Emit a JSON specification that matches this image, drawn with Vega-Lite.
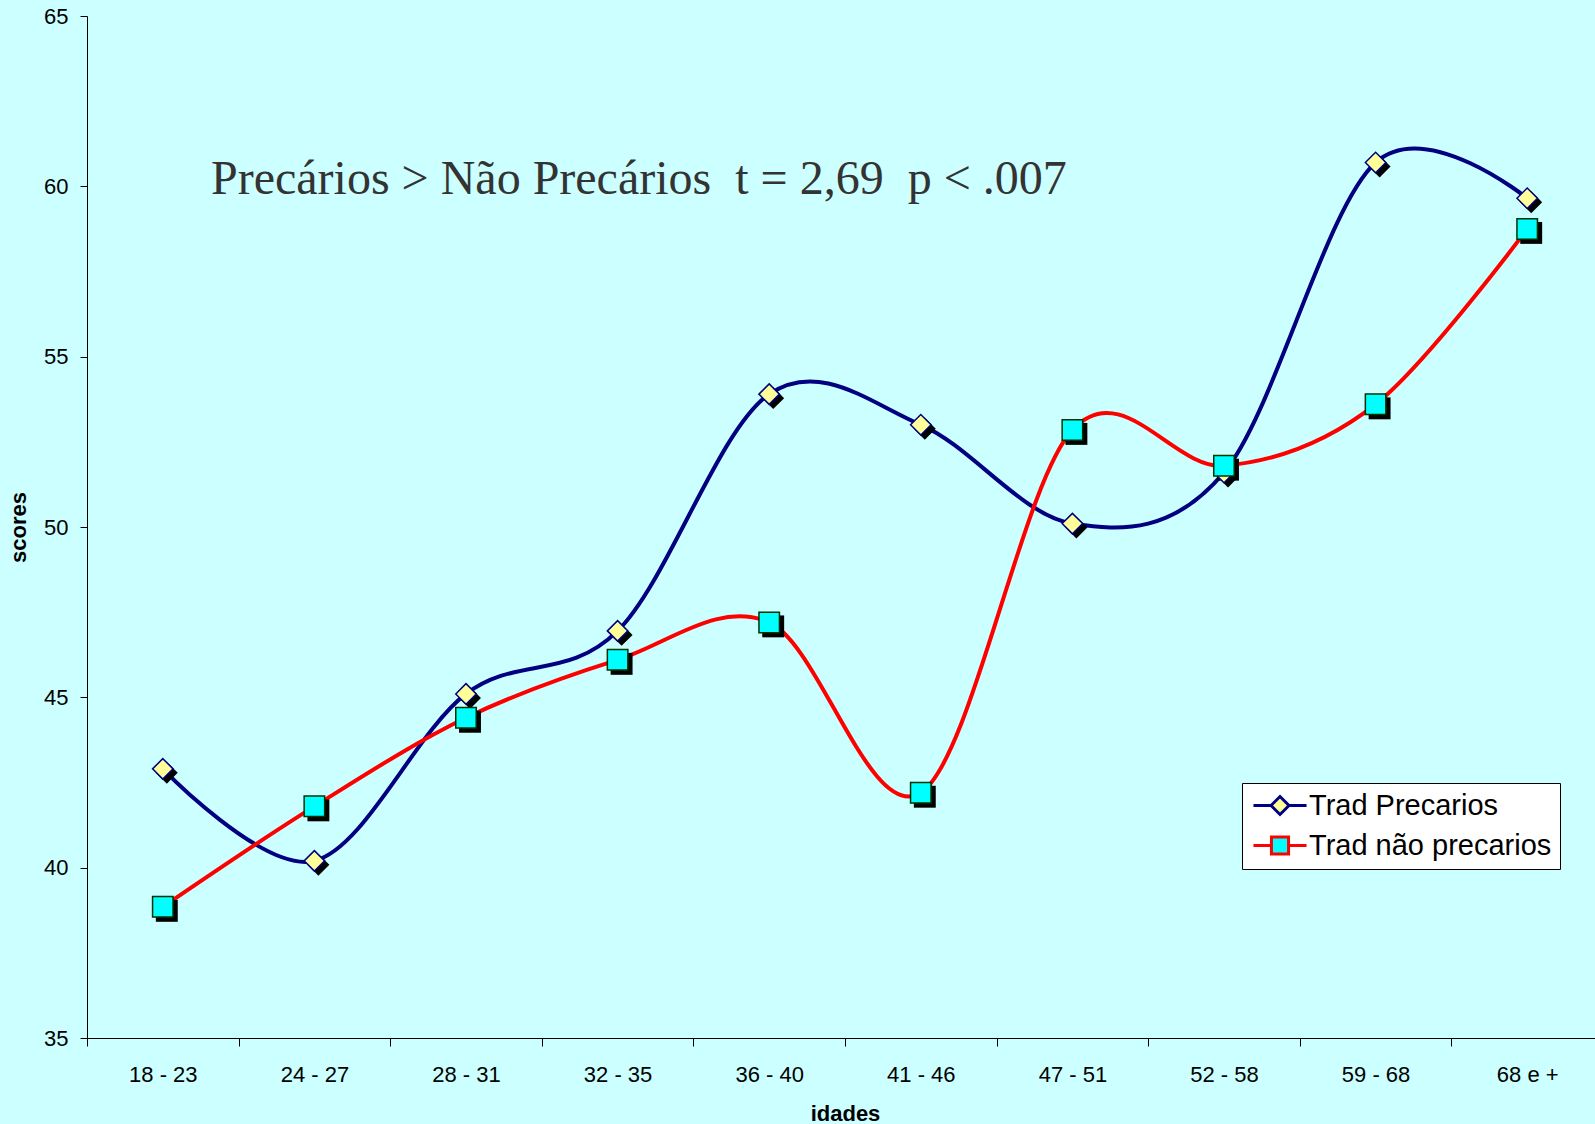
{
  "$schema": "https://vega.github.io/schema/vega-lite/v6.json",
  "width": 1516,
  "height": 1022,
  "autosize": {"type": "none"},
  "padding": {"left": 87, "top": 16, "right": -8, "bottom": 86},
  "background": "#CCFFFF",
  "config": {"view": {"stroke": null}, "font": "Liberation Sans"},
  "title": {
    "text": "Precários > Não Precários \u00a0t = 2,69 \u00a0p < .007",
    "anchor": "start",
    "frame": "group",
    "orient": "top",
    "font": "Liberation Serif",
    "fontSize": 48,
    "fontWeight": "normal",
    "color": "#333333",
    "baseline": "alphabetic",
    "dx": 124,
    "offset": -237
  },
  "data": {
    "values": [
      {"idade": "18 - 23", "serie": "Trad Precarios", "score": 42.9},
      {"idade": "24 - 27", "serie": "Trad Precarios", "score": 40.2},
      {"idade": "28 - 31", "serie": "Trad Precarios", "score": 45.1},
      {"idade": "32 - 35", "serie": "Trad Precarios", "score": 46.95},
      {"idade": "36 - 40", "serie": "Trad Precarios", "score": 53.9},
      {"idade": "41 - 46", "serie": "Trad Precarios", "score": 53.0},
      {"idade": "47 - 51", "serie": "Trad Precarios", "score": 50.1},
      {"idade": "52 - 58", "serie": "Trad Precarios", "score": 51.6},
      {"idade": "59 - 68", "serie": "Trad Precarios", "score": 60.7},
      {"idade": "68 e +", "serie": "Trad Precarios", "score": 59.65},
      {"idade": "18 - 23", "serie": "Trad não precarios", "score": 38.85},
      {"idade": "24 - 27", "serie": "Trad não precarios", "score": 41.8},
      {"idade": "28 - 31", "serie": "Trad não precarios", "score": 44.4},
      {"idade": "32 - 35", "serie": "Trad não precarios", "score": 46.1},
      {"idade": "36 - 40", "serie": "Trad não precarios", "score": 47.2},
      {"idade": "41 - 46", "serie": "Trad não precarios", "score": 42.2},
      {"idade": "47 - 51", "serie": "Trad não precarios", "score": 52.85},
      {"idade": "52 - 58", "serie": "Trad não precarios", "score": 51.8},
      {"idade": "59 - 68", "serie": "Trad não precarios", "score": 53.6},
      {"idade": "68 e +", "serie": "Trad não precarios", "score": 58.75}
    ]
  },
  "encoding": {
    "x": {
      "field": "idade",
      "type": "nominal",
      "sort": null,
      "bandPosition": 0.5,
      "scale": {"type": "band", "paddingInner": 0, "paddingOuter": 0},
      "axis": {
        "title": "idades",
        "labelAngle": 0,
        "tickBand": "extent",
        "tickSize": 8,
        "labelPadding": 18,
        "labelFontSize": 22,
        "labelColor": "black",
        "labelBaseline": "top",
        "tickColor": "black",
        "domainColor": "black",
        "grid": false,
        "titleFontSize": 22,
        "titleFontWeight": "bold",
        "titleColor": "black",
        "titleBaseline": "alphabetic",
        "titleY": 82,
        "titleX": 758
      }
    },
    "y": {
      "field": "score",
      "type": "quantitative",
      "scale": {"domain": [35, 65], "nice": false, "zero": false},
      "axis": {
        "title": "scores",
        "values": [35, 40, 45, 50, 55, 60, 65],
        "tickSize": 7,
        "labelPadding": 12,
        "labelFontSize": 22,
        "labelColor": "black",
        "tickColor": "black",
        "domainColor": "black",
        "grid": false,
        "titleFontSize": 22,
        "titleFontWeight": "bold",
        "titleColor": "black",
        "titleBaseline": "alphabetic",
        "titleAngle": -90,
        "titleX": -62,
        "titleY": 511
      }
    }
  },
  "layer": [
    {
      "mark": {"type": "line", "interpolate": "cardinal", "tension": 0, "strokeWidth": 4},
      "encoding": {
        "color": {
          "field": "serie",
          "type": "nominal",
          "scale": {"range": ["#000080", "#FF0000"]},
          "legend": {
            "orient": "none",
            "legendX": 1155,
            "legendY": 767,
            "title": null,
            "direction": "vertical",
            "symbolType": "square",
            "symbolSize": 324,
            "symbolStrokeWidth": 3,
            "symbolOffset": 15.5,
            "labelOffset": 14.5,
            "labelFontSize": 29,
            "labelFont": "Liberation Sans",
            "labelColor": "black",
            "labelLimit": 400,
            "padding": 8,
            "rowPadding": 9,
            "fillColor": "white",
            "strokeColor": "black",
            "encode": {
              "symbols": {
                "update": {
                  "shape": {"signal": "datum.value === 'Trad Precarios' ? 'M-2.95,0L-1,0M-1,0L0,-1L1,0L0,1ZM1,0L2.95,0' : 'M-2.95,0L-0.95,0M-0.95,-0.95L0.95,-0.95L0.95,0.95L-0.95,0.95ZM0.95,0L2.95,0'"},
                  "fill": {"signal": "datum.value === 'Trad Precarios' ? '#FFFF99' : '#00FFFF'"},
                  "strokeWidth": {"value": 3},
                  "opacity": {"value": 1}
                }
              }
            }
          }
        }
      }
    },
    {
      "mark": {"type": "point", "filled": true, "opacity": 1, "size": 480, "color": "black", "strokeWidth": 0, "xOffset": 4, "yOffset": 4},
      "encoding": {
        "shape": {
          "field": "serie",
          "type": "nominal",
          "scale": {"domain": ["Trad Precarios", "Trad não precarios"], "range": ["diamond", "square"]},
          "legend": null
        }
      }
    },
    {
      "mark": {"type": "point", "filled": true, "opacity": 1, "size": 420, "strokeWidth": 1.5},
      "encoding": {
        "shape": {
          "field": "serie",
          "type": "nominal",
          "scale": {"domain": ["Trad Precarios", "Trad não precarios"], "range": ["diamond", "square"]},
          "legend": null
        },
        "fill": {
          "field": "serie",
          "type": "nominal",
          "scale": {"domain": ["Trad Precarios", "Trad não precarios"], "range": ["#FFFF99", "#00FFFF"]},
          "legend": null
        },
        "stroke": {
          "field": "serie",
          "type": "nominal",
          "scale": {"domain": ["Trad Precarios", "Trad não precarios"], "range": ["#000080", "#003300"]},
          "legend": null
        }
      }
    }
  ]
}
